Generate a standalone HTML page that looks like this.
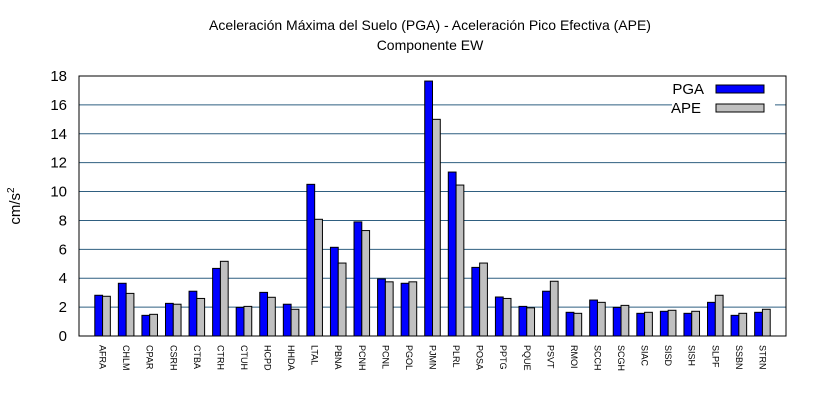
<!DOCTYPE html>
<html><head><meta charset="utf-8"><style>
body{margin:0;background:#fff}
svg text{font-family:"Liberation Sans",sans-serif}
</style></head><body>
<svg id="chart" width="820" height="400" xmlns="http://www.w3.org/2000/svg">
<rect width="820" height="400" fill="#fff"/>
<text x="430" y="30" font-size="14" text-anchor="middle">Aceleración Máxima del Suelo (PGA) -  Aceleración Pico Efectiva (APE)</text>
<text x="430" y="50" font-size="14" text-anchor="middle">Componente EW</text>
<text transform="translate(20,206) rotate(-90)" font-size="15" text-anchor="middle">cm/s<tspan font-size="10" dy="-6">2</tspan></text>
<g id="grid"></g><g id="bars"></g><g id="axes"></g>
</svg>
<script>
const categories=["AFRA","CHLM","CPAR","CSRH","CTBA","CTRH","CTUH","HCPD","HHDA","LTAL","PBNA","PCNH","PCNL","PGOL","PJMN","PLRL","POSA","PPTG","PQUE","PSVT","RMOI","SCCH","SCGH","SIAC","SISD","SISH","SLPF","SSBN","STRN"];
const pga=[2.82,3.65,1.43,2.26,3.1,4.68,1.98,3.02,2.2,10.5,6.14,7.9,3.95,3.65,17.65,11.35,4.75,2.7,2.05,3.1,1.64,2.49,1.98,1.57,1.71,1.57,2.33,1.43,1.64];
const ape=[2.75,2.95,1.5,2.2,2.6,5.17,2.05,2.68,1.85,8.08,5.05,7.3,3.75,3.75,15.0,10.45,5.05,2.6,1.95,3.79,1.57,2.33,2.12,1.64,1.78,1.71,2.82,1.57,1.85];
const yTicks=[0,2,4,6,8,10,12,14,16,18];
const NS="http://www.w3.org/2000/svg";
const L=79,R=786,T=76,B=336,yMax=18;
const x=v=>L+(v/(categories.length+1))*(R-L);
const y=v=>B-(v/yMax)*(B-T);
function mk(tag,attrs,parent,txt){const e=document.createElementNS(NS,tag);for(const k in attrs)e.setAttribute(k,attrs[k]);if(txt!==undefined)e.textContent=txt;document.getElementById(parent).appendChild(e);return e;}
yTicks.forEach(t=>{
  if(t>0&&t<yMax){const g=mk('line',{x1:L,x2:R,y1:y(t),y2:y(t),stroke:'#2f5f80','stroke-width':1},'grid');
  
  }
  const lb=mk('text',{x:L-12,y:y(t)+5,'font-size':15,'text-anchor':'end'},'axes',String(t));
  
  
});
// legend background
const lgbg=mk('rect',{x:672,y:78,width:103,height:38,fill:'#fff'},'grid');


const bw=(x(1)-x(0))*0.33;
categories.forEach((c,i)=>{
  const cx=x(i+1);
  const b1=mk('rect',{x:cx-bw,y:y(pga[i]),width:bw,height:B-y(pga[i]),fill:'#0000ff',stroke:'#000','stroke-width':1},'bars');
  
  
  const b2=mk('rect',{x:cx,y:y(ape[i]),width:bw,height:B-y(ape[i]),fill:'#c0c0c0',stroke:'#000','stroke-width':1},'bars');
  
  
  const lb=mk('text',{transform:`translate(${cx-3},345) rotate(90)`,'font-size':9},'axes',c);
  
  
});
const fr=mk('rect',{x:L,y:T,width:R-L,height:B-T,fill:'none',stroke:'#000','stroke-width':1},'axes');


const lt1=mk('text',{x:704,y:94,'font-size':15,'text-anchor':'end'},'axes','PGA');


const ls1=mk('rect',{x:716,y:85,width:48,height:8,fill:'#0000ff',stroke:'#000'},'axes');


const lt2=mk('text',{x:701,y:113,'font-size':15,'text-anchor':'end'},'axes','APE');


const ls2=mk('rect',{x:716,y:104,width:48,height:8,fill:'#c0c0c0',stroke:'#000'},'axes');


</script>
</body></html>
